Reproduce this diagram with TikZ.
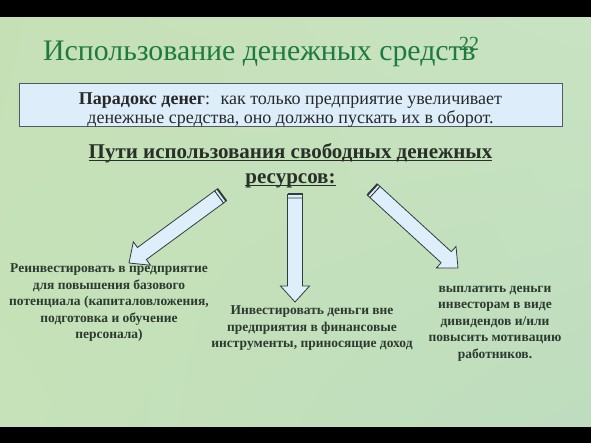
\documentclass[tikz,border=0pt]{standalone}
\usepackage{fontspec}
\setmainfont{Liberation Serif}
\usepackage{xcolor}
\usepackage{tikz}
\usetikzlibrary{calc, positioning, shadings}
\newlength{\ulwidth}
\newcommand{\ulbox}[1]{\settowidth{\ulwidth}{#1}\rlap{\rule[-2.6pt]{\ulwidth}{1.3pt}}#1}
\definecolor{titlegreen}{RGB}{30, 122, 64}
\definecolor{boxfill}{RGB}{221, 238, 250}
\definecolor{boxedge}{RGB}{80, 92, 96}
\definecolor{darktext}{RGB}{40, 40, 40}
\definecolor{headtext}{RGB}{40, 48, 40}
\definecolor{bodytext}{RGB}{45, 58, 48}
\definecolor{arrowfill}{RGB}{222, 238, 250}
\definecolor{arrowedge}{RGB}{50, 60, 60}
\definecolor{bgA}{RGB}{198, 224, 182}
\definecolor{bgB}{RGB}{200, 227, 194}
\definecolor{bgC}{RGB}{197, 226, 184}
\definecolor{bgD}{RGB}{190, 221, 190}
\tikzset{
    titlenode/.style = {draw=none, fill=none, inner sep=0em, text=titlegreen, font=\fontsize{29.8pt}{32pt}\selectfont},
    pagenode/.style = {draw=none, fill=none, inner sep=0em, text=titlegreen, font=\fontsize{20pt}{22pt}\selectfont},
    boxnode/.style = {draw=boxedge, fill=boxfill, rectangle, line width=0.9pt, inner sep=0em,
      minimum width=543pt, minimum height=39pt, text=darktext, font=\fontsize{18pt}{19pt}\selectfont, node distance=0em},
    headnode/.style = {draw=none, fill=none, inner sep=0em, text=headtext,
      font=\fontsize{21pt}{25pt}\selectfont\bfseries, node distance=0em},
    textnode/.style = {draw=none, fill=none, inner sep=0em, text=bodytext,
      font=\fontsize{13.5pt}{16.5pt}\selectfont\bfseries, node distance=0em},
    arrowbody/.style = {draw=arrowedge, fill=arrowfill, line width=0.8pt, line join=miter},
    arrowtail/.style = {draw=arrowedge, line width=2pt},
    every text node part/.style={align=center}
}
\newcommand{\blockarrow}[2]{%
    \coordinate (headbase) at ($(#2)!16pt!(#1)$);
    \coordinate (tailback) at ($(#1)!-3.5pt!(#2)$);
    \draw[arrowbody] ($(#1)!7.5pt!90:(#2)$) -- ($(tailback)!7.5pt!90:(#2)$) -- ($(tailback)!7.5pt!-90:(#2)$) -- ($(#1)!7.5pt!-90:(#2)$) -- cycle;
    \draw[arrowbody] ($(#1)!7.5pt!90:(#2)$) -- ($(headbase)!7.5pt!90:(#2)$) -- ($(headbase)!14.5pt!90:(#2)$) -- (#2)
      -- ($(headbase)!14.5pt!-90:(#2)$) -- ($(headbase)!7.5pt!-90:(#2)$) -- ($(#1)!7.5pt!-90:(#2)$) -- cycle;
    \draw[arrowtail] ($(tailback)!7.5pt!90:(#2)$) -- ($(tailback)!7.5pt!-90:(#2)$);
}

\begin{document}
\begin{tikzpicture}[x=1pt, y=1pt]
    \useasboundingbox (0,0) rectangle (591,-443);
    \fill[black] (0,0) rectangle (591,-443);
    \shade[upper left=bgA, upper right=bgB, lower left=bgC, lower right=bgD] (0,-18) rectangle (591,-426);

    \node [titlenode, name=title, anchor=base west] at (43,-61) {Использование денежных средств};
    \node [pagenode, name=pagenum, anchor=base west] at (459,-51) {22};

    \node [boxnode, name=paradox] at (290.5,-105)
        {\rule{0pt}{21pt}\textbf{Парадокс денег}:~ как только предприятие увеличивает\\ денежные средства, оно должно пускать их в оборот.};
    \node [headnode, name=ways, below of=paradox, yshift=-61pt]
        {\ulbox{Пути использования свободных денежных}\\ \ulbox{ресурсов:}};

    \node [textnode, name=reinvest, below of=paradox, xshift=-181.5pt, yshift=-198pt]
        {Реинвестировать в предприятие\\ для повышения базового\\ потенциала (капиталовложения,\\ подготовка и обучение\\ персонала)};
    \node [textnode, name=invest, below of=paradox, xshift=21.5pt, yshift=-223.5pt]
        {Инвестировать деньги вне\\ предприятия в финансовые\\ инструменты, приносящие доход};
    \node [textnode, name=payout, below of=paradox, xshift=204.5pt, yshift=-218.5pt]
        {выплатить деньги\\ инвесторам в виде\\ дивидендов и/или\\ повысить мотивацию\\ работников.};

    \coordinate (reinvestTail) at (219,-197);
    \coordinate (reinvestTip) at (129,-263);
    \coordinate (investTail) at (295,-198);
    \coordinate (investTip) at (295,-302);
    \coordinate (payoutTail) at (375,-192);
    \coordinate (payoutTip) at (458,-268);
    \blockarrow{reinvestTail}{reinvestTip}
    \blockarrow{investTail}{investTip}
    \blockarrow{payoutTail}{payoutTip}
\end{tikzpicture}
\end{document}
